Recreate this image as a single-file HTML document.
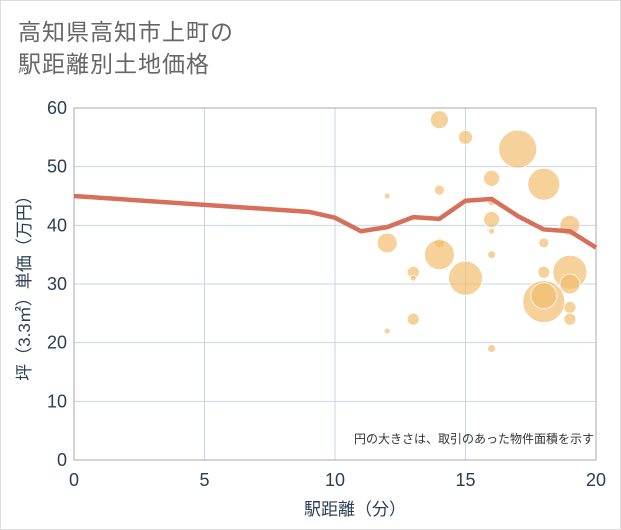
<!DOCTYPE html>
<html><head><meta charset="utf-8"><style>
body{margin:0;background:#fff;font-family:"Liberation Sans","Noto Sans CJK JP",sans-serif;}
.frame{position:absolute;left:0;top:0;width:619px;height:528px;border:1px solid #ddd;}
.title{position:absolute;left:18px;top:16px;font-size:23px;line-height:32px;color:#666;letter-spacing:1px;}
</style></head><body>
<div class="frame"></div>
<div class="title">高知県高知市上町の<br>駅距離別土地価格</div>
<svg id="c" width="621" height="530" style="position:absolute;left:0;top:0"></svg>
<script>
const xTicks=[0,5,10,15,20];
const yTicks=[0,10,20,30,40,50,60];
const lineX=[0,9,10,11,12,13,14,15,16,17,18,19,20];
const lineY=[45,42.3,41.3,39,39.7,41.4,41.1,44.2,44.5,41.6,39.3,39,36.2];
const bubX=[14,15,17,16,18,12,14,16,16,16,19,12,14,14,16,18,13,13,15,18,19,19,18,18,19,19,13,12,16];
const bubY=[58,55,53,48,47,45,46,44,41,39,40,37,37,35,35,37,32,31,31,32,32,30,27,28,26,24,24,22,19];
const bubR=[9,7,19,8,16,3,5,4,8,3,10,10,5,15,4,5,6,3,17,6,17,10,21,13,6,6,6,3,4];
const svg=document.getElementById('c');const NS='http://www.w3.org/2000/svg';
const X0=74,X1=596,Y0=460,Y1=108;
const sx=v=>X0+(X1-X0)*v/20, sy=v=>Y0-(Y0-Y1)*v/60;
function mk(t,a){const e=document.createElementNS(NS,t);for(const k in a)e.setAttribute(k,a[k]);svg.appendChild(e);return e;}
xTicks.forEach(v=>{const l=mk('line',{x1:sx(v),x2:sx(v),y1:Y1,y2:Y0,stroke:'#c9d6e3','stroke-width':1});

const t=mk('text',{x:sx(v),y:486,'text-anchor':'middle','font-size':18,fill:'#2b3e55'});t.textContent=v;
});
yTicks.forEach(v=>{const l=mk('line',{x1:X0,x2:X1,y1:sy(v),y2:sy(v),stroke:'#c9d6e3','stroke-width':1});

const t=mk('text',{x:67,y:sy(v)+6,'text-anchor':'end','font-size':18,fill:'#2b3e55'});t.textContent=v;
});
const ax=mk('path',{d:`M${X0} ${Y1}V${Y0}H${X1}`,fill:'none',stroke:'#888','stroke-width':1});

const bx=mk('rect',{x:X0,y:Y1,width:X1-X0,height:Y0-Y1,fill:'none',stroke:'#aaa','stroke-width':1});

bubX.forEach((v,i)=>{const c=mk('circle',{cx:sx(v),cy:sy(bubY[i]),r:bubR[i],fill:'rgba(242,190,110,0.7)',stroke:'#fff','stroke-width':0.8});
});
const p=mk('polyline',{points:lineX.map((v,i)=>sx(v)+','+sy(lineY[i])).join(' '),fill:'none',stroke:'#d6705a','stroke-width':4.5,'stroke-linejoin':'round'});

const n=mk('text',{x:594,y:443,'text-anchor':'end','font-size':12,fill:'#333','font-family':'Liberation Sans, Noto Sans CJK JP, sans-serif'});n.textContent='円の大きさは、取引のあった物件面積を示す';

const xt=mk('text',{x:355,y:515,'text-anchor':'middle','font-size':17,fill:'#2b3e55','font-family':'Liberation Sans, Noto Sans CJK JP, sans-serif'});xt.textContent='駅距離（分）';

const yt=mk('text',{x:0,y:0,'text-anchor':'middle','font-size':17,fill:'#2b3e55',transform:'translate(30,284) rotate(-90)','font-family':'Liberation Sans, Noto Sans CJK JP, sans-serif'});yt.textContent='坪（3.3㎡）単価（万円）';

</script>
</body></html>
